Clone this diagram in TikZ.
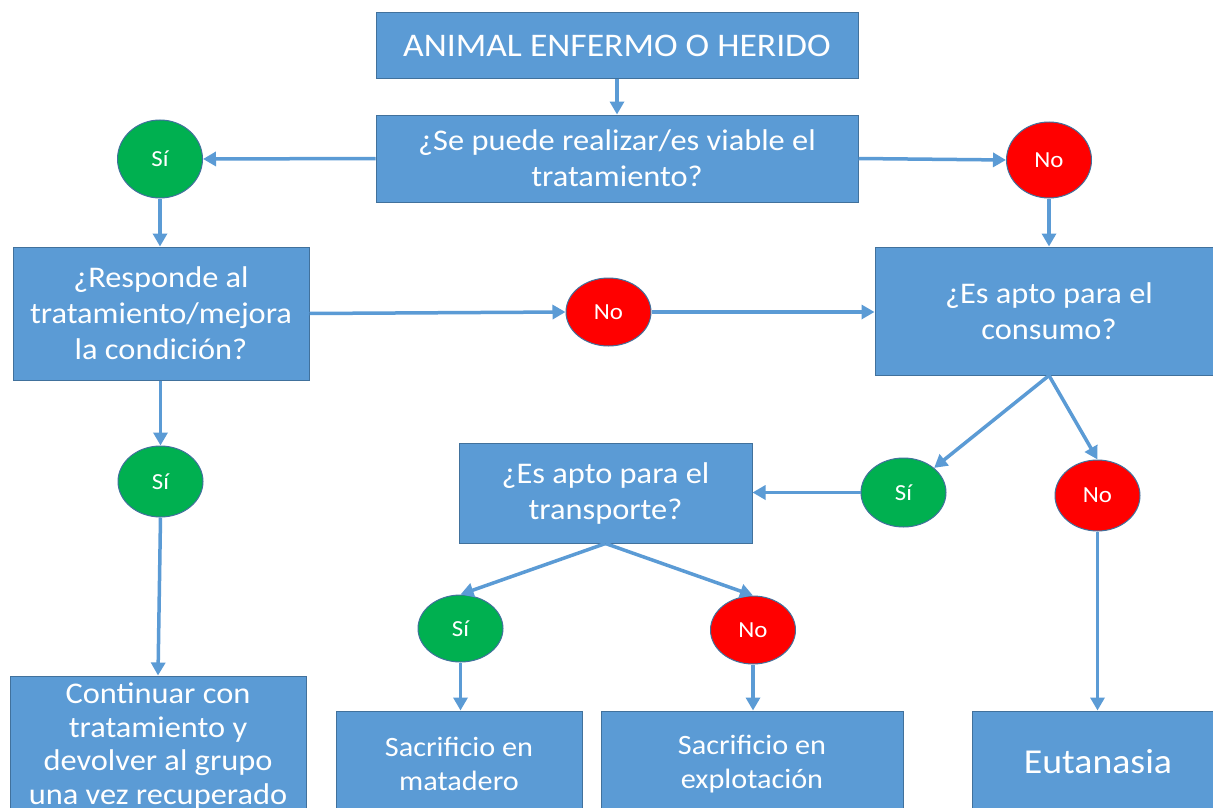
\documentclass[tikz,border=0pt]{standalone}
\usepackage{fontspec}
\setmainfont{Carlito}[FakeStretch=1.08]
\usetikzlibrary{shapes.geometric,arrows.meta}
\definecolor{boxblue}{HTML}{5B9BD5}
\definecolor{boxedge}{HTML}{41719C}
\definecolor{yesgreen}{HTML}{00B050}
\definecolor{nored}{HTML}{FF0000}
\tikzset{
  box/.style={rectangle, fill=boxblue, draw=boxedge, line width=1pt, text=white, align=center, inner sep=0pt},
  bigtxt/.style={font=\fontsize{30}{36}\selectfont},
  midtxt/.style={font=\fontsize{28}{34}\selectfont},
  yes/.style={ellipse, fill=yesgreen, draw=boxedge, line width=1pt, text=white, minimum width=85pt, minimum height=70pt, inner sep=0pt, font=\fontsize{23}{26}\selectfont},
  no/.style={yes, fill=nored},
  arr/.style={draw=boxblue, line width=3.5pt, -{Triangle[length=13pt,width=14pt]}}
}
\begin{document}
\begin{tikzpicture}[x=1pt,y=-1pt]
\clip (0,0) rectangle (1213,808);
\fill[white] (0,0) rectangle (1213,808);
% boxes
\node[box, minimum width=482pt, minimum height=66pt, font=\fontsize{33}{38}\selectfont] (top) at (617,46) {ANIMAL ENFERMO O HERIDO};
\node[box, font=\fontsize{30}{36}\selectfont, minimum width=482pt, minimum height=87pt] (q1) at (617,158.5) {¿Se puede realizar/es viable el\\tratamiento?};
\node[box, bigtxt, minimum width=296pt, minimum height=133pt] (q2) at (161,313.5) {¿Responde al\\tratamiento/mejora\\la condición?};
\node[box, bigtxt, minimum width=348pt, minimum height=128pt] (q3) at (1049,311) {¿Es apto para el\\consumo?};
\node[box, bigtxt, minimum width=293pt, minimum height=100pt] (q4) at (605.5,493) {¿Es apto para el\\transporte?};
\node[box, font=\fontsize{30}{33.5}\selectfont, minimum width=296pt, minimum height=140pt] (cont) at (158,746) {Continuar con\\tratamiento y\\devolver al grupo\\una vez recuperado};
\node[box, midtxt, minimum width=246pt, minimum height=106pt] (mat) at (459,764) {Sacrificio en\\matadero};
\node[box, midtxt, minimum width=302pt, minimum height=106pt] (exp) at (752,764) {Sacrificio en\\explotación};
\node[box, font=\fontsize{35}{40}\selectfont, minimum width=252pt, minimum height=102pt] (eut) at (1098,762) {Eutanasia};
% ellipses
\node[yes, minimum height=78pt] (si1) at (160,159) {Sí};
\node[no, minimum height=76pt] (no1) at (1049,160) {No};
\node[no, minimum height=68pt] (no2) at (608.5,312) {No};
\node[yes, minimum height=71pt] (si2) at (160.5,481.5) {Sí};
\node[yes, minimum height=69pt] (si3) at (903.5,492.5) {Sí};
\node[no, minimum height=71pt] (no3) at (1097.5,495.5) {No};
\node[yes, minimum height=67pt] (si4) at (460.5,628.5) {Sí};
\node[no, minimum height=68pt] (no4) at (753,630) {No};
% connectors
\draw[arr] (top.south) -- (q1.north);
\draw[arr] (q1.west) -- (si1.east);
\draw[arr] (q1.east) -- (no1.west);
\draw[arr] (si1.south) -- (si1.south |- q2.north);
\draw[arr] (no1.south) -- (no1.south |- q3.north);
\draw[arr] (q2.east) -- (no2.west);
\draw[arr] (no2.east) -- (no2.east -| q3.west);
\draw[arr] (q2.south -| si2.north) -- (si2.north);
\draw[arr] (si2.south) -- (cont.north);
\draw[arr] (q3.south) -- (si3);
\draw[arr] (q3.south) -- (no3.north);
\draw[arr] (si3.west) -- (si3.west -| q4.east);
\draw[arr] (q4.south) -- (si4.north);
\draw[arr] (q4.south) -- (no4.north);
\draw[arr] (si4.south) -- (si4.south |- mat.north);
\draw[arr] (no4.south) -- (no4.south |- exp.north);
\draw[arr] (no3.south) -- (no3.south |- eut.north);
\end{tikzpicture}
\end{document}
